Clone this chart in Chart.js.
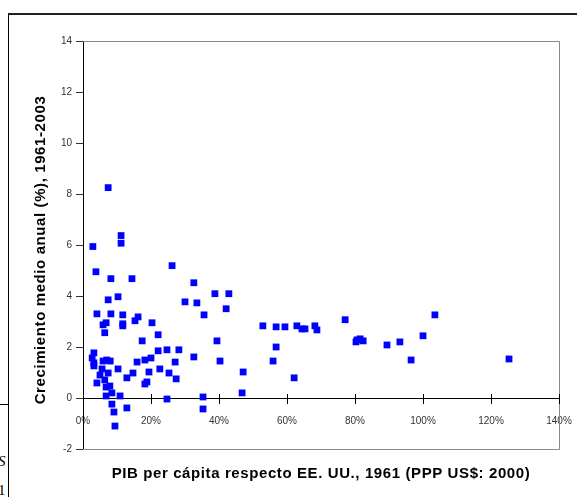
<!DOCTYPE html>
<html lang="es">
<head>
<meta charset="utf-8">
<title>Crecimiento medio anual vs PIB per cápita 1961</title>
<script src="https://cdn.jsdelivr.net/npm/chart.js@4.4.0/dist/chart.umd.min.js"></script>
<style>
	html, body { margin: 0; padding: 0; background: #fff; }
	#wrap { position: relative; width: 577px; height: 497px; overflow: hidden; }
	#frame { position: absolute; left: 8px; top: 13px; width: 600px; height: 520px;
		border-left: 1px solid #000; border-top: 2px solid #222; }
	#cut { position: absolute; left: 0; top: 404px; width: 8px; border-top: 1px solid #000; }
	.frag { position: absolute; left: -2px; font-family: "Liberation Serif", serif; font-size: 15px; color: #000; }
	#chart { position: absolute; left: 0; top: 0; }
</style>
</head>
<body>
<div id="wrap">
	<div id="frame"></div>
	<div id="cut"></div>
	<div class="frag" style="top:453px;font-style:italic">S</div>
	<div class="frag" style="top:482px">1</div>
	<canvas id="chart" width="577" height="497"></canvas>
</div>
<script>
	// PIB per cápita respecto a EE. UU. en 1961 (%)
	var pibPct = [2.9, 3.8, 7.4, 11.2, 11.2, 26.2, 8.2, 14.4, 32.6, 10.3,
		7.4, 4.1, 8.2, 11.7, 16.2, 15.3, 6.8, 5.9, 11.7, 11.7,
		20.3, 6.4, 22.1, 17.4, 30.0, 33.5, 3.2, 2.7, 3.2, 3.2,
		5.9, 7.0, 8.0, 5.6, 4.1, 5.0, 7.4, 6.4, 6.8, 7.9,
		10.3, 12.9, 14.7, 15.9, 18.2, 20.0, 22.1, 24.7, 28.2, 32.6,
		27.1, 19.4, 22.6, 25.3, 27.4, 18.8, 18.2, 8.5, 6.8, 10.9,
		24.7, 8.5, 12.9, 9.1, 9.4, 38.8, 42.9, 42.1, 35.6, 52.9,
		56.8, 59.4, 62.9, 64.4, 65.3, 68.2, 68.8, 77.1, 80.3, 80.6,
		81.5, 82.4, 39.4, 56.8, 40.3, 55.9, 47.1, 62.1, 46.8, 35.3,
		35.3, 103.5, 100.0, 89.4, 93.2, 96.5, 125.3];
	// crecimiento medio anual 1961-2003 (%)
	var crecimiento = [5.94, 4.95, 8.25, 6.37, 6.07, 5.19, 4.68, 4.68, 4.52, 3.97,
		3.85, 3.30, 3.30, 3.26, 3.18, 3.03, 2.95, 2.87, 2.91, 2.83,
		2.95, 2.56, 2.48, 2.24, 3.77, 3.73, 1.77, 1.57, 1.38, 1.26,
		1.45, 1.49, 1.45, 1.14, 0.59, 0.90, 0.98, 0.71, 0.43, 0.47,
		1.14, 0.79, 0.98, 1.41, 1.49, 1.57, 1.85, 1.89, 1.89, 1.61,
		1.41, 1.02, 1.14, 0.98, 0.75, 0.63, 0.55, 0.20, 0.08, 0.08,
		-0.04, -0.24, -0.39, -0.55, -1.10, 4.09, 4.09, 3.50, 3.26, 2.83,
		2.79, 2.79, 2.83, 2.71, 2.71, 2.83, 2.67, 3.07, 2.20, 2.28,
		2.32, 2.24, 2.24, 2.00, 1.45, 1.45, 1.02, 0.79, 0.20, 0.04,
		-0.43, 3.26, 2.44, 2.08, 2.20, 1.49, 1.53];

	var tituloX = "PIB per cápita respecto EE. UU., 1961 (PPP US$: 2000)";
	var tituloY = "Crecimiento medio anual (%), 1961-2003";

	var puntos = pibPct.map(function(v, i) { return { x: v, y: crecimiento[i] }; });

	// borde gris del area, marcas del eje X cruzando la linea y titulos
	var extras = {
		id: "extras",
		beforeDatasetsDraw: function(chart) {
			var ctx = chart.ctx, a = chart.chartArea;
			var sx = chart.scales.x, sy = chart.scales.y;
			ctx.save();
			ctx.strokeStyle = "#8a8a8a";
			ctx.lineWidth = 1;
			ctx.beginPath();
			ctx.moveTo(a.left, a.top + 0.5);
			ctx.lineTo(a.right + 0.5, a.top + 0.5);
			ctx.lineTo(a.right + 0.5, a.bottom + 0.5);
			ctx.lineTo(a.left, a.bottom + 0.5);
			ctx.stroke();

			var y0 = Math.round(sy.getPixelForValue(0));
			ctx.strokeStyle = "#000";
			ctx.beginPath();
			sx.ticks.forEach(function(t) {
				var px = Math.round(sx.getPixelForValue(t.value)) + 0.5;
				ctx.moveTo(px, y0 - 4);
				ctx.lineTo(px, y0 + 6);
			});
			ctx.stroke();

			ctx.fillStyle = "#000";
			ctx.font = "bold 15px 'Liberation Sans', Arial, sans-serif";
			ctx.letterSpacing = "0.6px";
			ctx.textAlign = "center";
			ctx.textBaseline = "middle";
			ctx.fillText(tituloX, 321, 474);
			ctx.translate(41, 250);
			ctx.rotate(-Math.PI / 2);
			ctx.fillText(tituloY, 0, 0);
			ctx.restore();
		}
	};

	new Chart(document.getElementById("chart"), {
		type: "scatter",
		data: {
			datasets: [{
				data: puntos,
				pointStyle: "rect",
				pointRadius: 4.8,
				pointHoverRadius: 4.8,
				pointBorderWidth: 0,
				backgroundColor: "#0000ff",
				borderColor: "#0000ff"
			}]
		},
		options: {
			responsive: false,
			animation: false,
			layout: { padding: { top: 41, right: 18, bottom: 48, left: 0 } },
			plugins: { legend: { display: false }, tooltip: { enabled: false } },
			scales: {
				x: {
					type: "linear",
					position: { y: 0 },
					min: 0, max: 140,
					grid: { display: false, drawTicks: true, tickLength: 15 },
					border: { display: true, color: "#000", width: 1 },
					ticks: {
						stepSize: 20,
						padding: 2,
						color: "#333",
						font: { family: "'Liberation Sans', Arial, sans-serif", size: 10 },
						callback: function(v) { return v + "%"; }
					}
				},
				y: {
					min: -2, max: 14,
					afterFit: function(s) { s.width = 83; },
					grid: { drawOnChartArea: false, drawTicks: true, tickLength: 7, color: "#333" },
					border: { display: true, color: "#000", width: 1 },
					ticks: {
						stepSize: 2,
						padding: 4,
						color: "#333",
						font: { family: "'Liberation Sans', Arial, sans-serif", size: 10 }
					}
				}
			}
		},
		plugins: [extras]
	});
</script>
</body>
</html>
